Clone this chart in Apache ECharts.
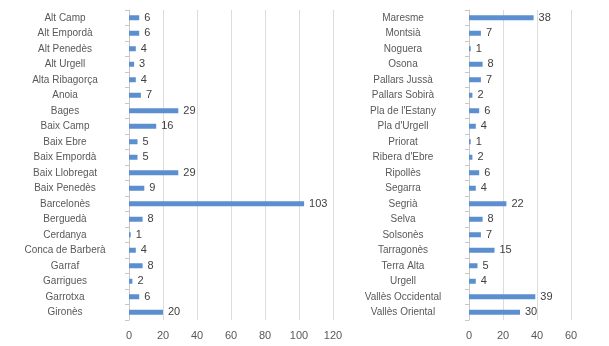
<!DOCTYPE html>
<html><head><meta charset="utf-8">
<script src="https://cdn.jsdelivr.net/npm/echarts@6/dist/echarts.min.js"></script>
<style>html,body{margin:0;padding:0;background:#fff}#c{width:609px;height:346px}</style>
</head><body><div id="c"></div>
<script>
const leftCategories = ["Alt Camp","Alt Empordà","Alt Penedès","Alt Urgell","Alta Ribagorça","Anoia","Bages","Baix Camp","Baix Ebre","Baix Empordà","Baix Llobregat","Baix Penedès","Barcelonès","Berguedà","Cerdanya","Conca de Barberà","Garraf","Garrigues","Garrotxa","Gironès"];
const leftValues = [6,6,4,3,4,7,29,16,5,5,29,9,103,8,1,4,8,2,6,20];
const rightCategories = ["Maresme","Montsià","Noguera","Osona","Pallars Jussà","Pallars Sobirà","Pla de l'Estany","Pla d'Urgell","Priorat","Ribera d'Ebre","Ripollès","Segarra","Segrià","Selva","Solsonès","Tarragonès","Terra Alta","Urgell","Vallès Occidental","Vallès Oriental"];
const rightValues = [38,7,1,8,7,2,6,4,1,2,6,4,22,8,7,15,5,4,39,30];
const leftTicks = {min:0,max:120,interval:20};
const rightTicks = {min:0,max:60,interval:20};

const font = "Liberation Sans";
const gray = "#595959";
const barColor = "#5b8fcf";
function catAxis(idx, cats, margin){
  return {type:'category', gridIndex:idx, data:cats, inverse:true,
    axisLine:{show:true,lineStyle:{color:'#c8c8c8'}},
    axisTick:{show:true,length:4,lineStyle:{color:'#c8c8c8'}},
    axisLabel:{color:gray,fontFamily:font,fontSize:10,align:'center',margin:margin,interval:0}};
}
function valAxis(idx, t){
  return {type:'value', gridIndex:idx, min:t.min, max:t.max, interval:t.interval,
    axisLine:{show:false}, axisTick:{show:false},
    splitLine:{show:true,lineStyle:{color:'#dcdcdc'}},
    axisLabel:{color:gray,fontFamily:font,fontSize:11,margin:10}};
}
function series(idx, vals){
  return {type:'bar', xAxisIndex:idx, yAxisIndex:idx, data:vals, barWidth:5,
    itemStyle:{color:barColor},
    label:{show:true,position:'right',distance:5,color:'#404040',fontFamily:font,fontSize:11}};
}
const chart = echarts.init(document.getElementById('c'),null,{renderer:'canvas'});
chart.setOption({
  animation:false,
  grid:[{left:129,width:204,top:10,height:310},{left:469,width:102,top:10,height:310}],
  xAxis:[valAxis(0,leftTicks),valAxis(1,rightTicks)],
  yAxis:[catAxis(0,leftCategories,64),catAxis(1,rightCategories,66)],
  series:[series(0,leftValues),series(1,rightValues)]
});
</script></body></html>
